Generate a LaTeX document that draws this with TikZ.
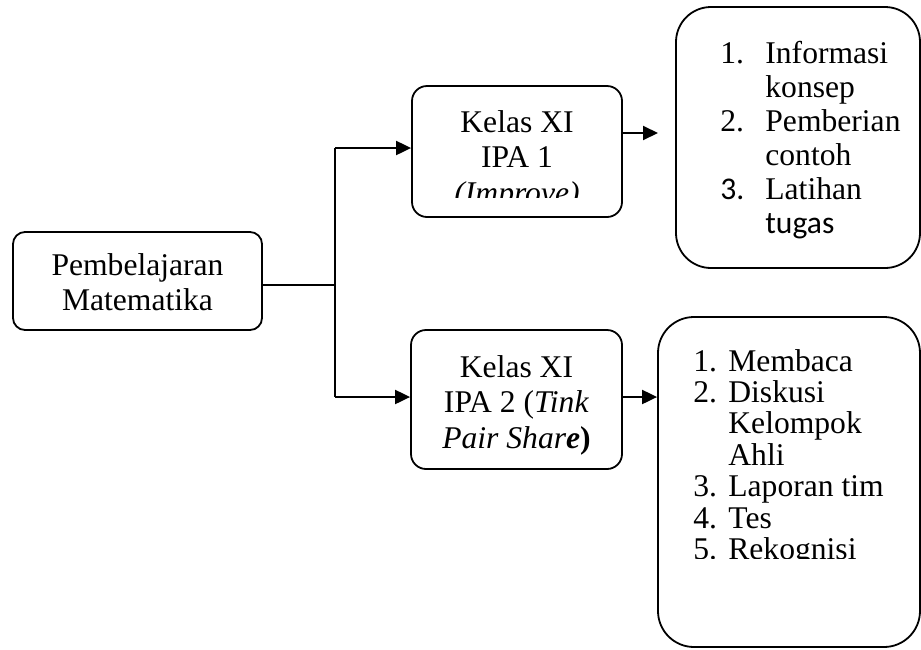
\documentclass[tikz,border=0pt]{standalone}
\usepackage{fontspec}
\setmainfont{Liberation Serif}
\newfontfamily\calibri{Carlito}
\usetikzlibrary{arrows.meta}
\tikzset{
  box/.style={draw, line width=0.9pt, inner sep=0pt},
  link/.style={line width=1pt},
  arr/.style={link, -{Triangle[length=7.5pt,width=7pt]}},
  txt/.style={inner sep=0pt, anchor=base},
}
\newcommand{\bodysize}[1]{\fontsize{15.8pt}{#1}\selectfont}
\begin{document}
\begin{tikzpicture}[x=0.5pt,y=-0.5pt]
        \useasboundingbox (0,0) rectangle (921,649);

        % Boxes
        \node[box, rounded corners=6pt, minimum width=124.5pt, minimum height=49pt] (lbox) at (137.5,281) {};
        \node[box, rounded corners=7.5pt, minimum width=105pt, minimum height=65.5pt] (tbox) at (517,151.5) {};
        \node[box, rounded corners=7.5pt, minimum width=105.5pt, minimum height=69.5pt] (bbox) at (516.5,399.5) {};
        \node[box, rounded corners=17.5pt, minimum width=122pt, minimum height=130.5pt] (tlist) at (798,137.5) {};
        \node[box, rounded corners=18pt, minimum width=131pt, minimum height=165pt] (blist) at (789,482) {};

        % Texts
        \node[txt] (ltext) at (137.5,275) {\bodysize{17.5pt}\begin{tabular}[t]{@{}c@{}}Pembelajaran\\Matematika\end{tabular}};
        \begin{scope}
            \clip (412,86) rectangle (622,197);
            \node[txt] (ttext) at (517,132) {\bodysize{17.75pt}\begin{tabular}[t]{@{}c@{}}Kelas XI\\IPA 1\\\textit{(Improve)}\end{tabular}};
        \end{scope}
        \node[txt] (btext) at (516.5,377) {\bodysize{17.75pt}\begin{tabular}[t]{@{}c@{}}Kelas XI\\IPA 2 (\textit{Tink}\\\textit{Pair Shar\textbf{e}}\textbf{)}\end{tabular}};
        \node[txt, anchor=base west] (titems) at (720,63) {\bodysize{17pt}\begin{tabular}[t]{@{}p{22.5pt}@{}l@{}}1.&Informasi\\&konsep\\2.&Pemberian\\&contoh\\{\calibri 3.}&Latihan\\&{\calibri tugas}\end{tabular}};
        \begin{scope}
            \clip (658,317) rectangle (920,558);
            \node[txt, anchor=base west] (bitems) at (693,371) {\bodysize{15.7pt}\begin{tabular}[t]{@{}p{17.5pt}@{}l@{}}1.&Membaca\\2.&Diskusi\\&Kelompok\\&Ahli\\3.&Laporan tim\\4.&Tes\\5.&Rekognisi\end{tabular}};
        \end{scope}

        % Connectors
        \coordinate (jm) at (335,285);
        \coordinate (jt) at (335,148);
        \coordinate (jb) at (335,397);
        \coordinate (te) at (658,133);
        \draw[link] (lbox.east |- jm) -- (jm);
        \draw[link] (jt) -- (jb);
        \draw[arr] (jt) -- (jt -| tbox.west);
        \draw[arr] (jb) -- (jb -| bbox.west);
        \draw[arr] (te -| tbox.east) -- (te);
        \draw[arr] (bbox.east |- jb) -- (blist.west |- jb);
    \end{tikzpicture}
\end{document}
